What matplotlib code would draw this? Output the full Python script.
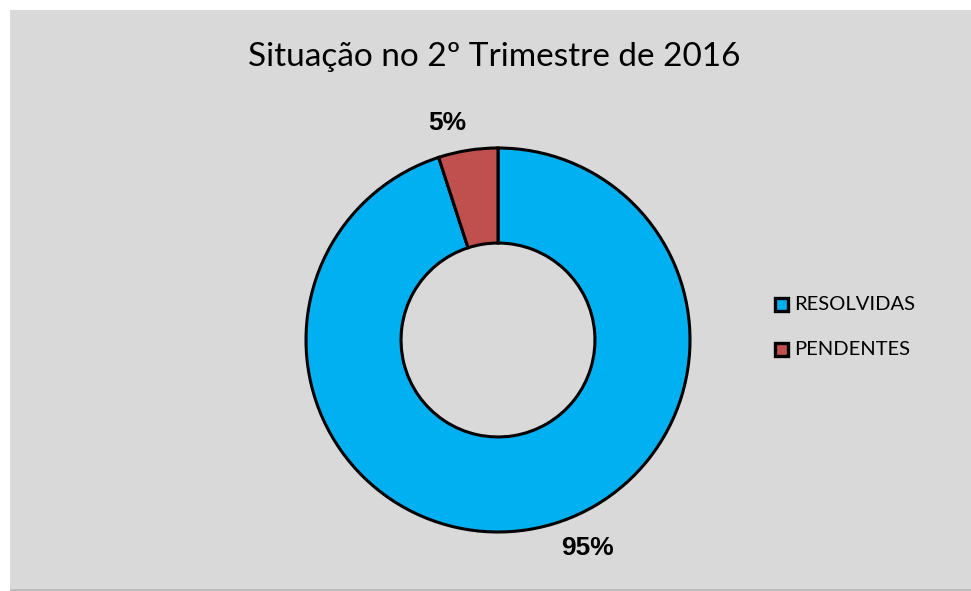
import matplotlib.pyplot as plt
from matplotlib.patches import Rectangle

# data
categorias = ['RESOLVIDAS', 'PENDENTES']
valores = [95, 5]
rotulos = ['95%', '5%']
cores = ['#00b0f0', '#c0504d']

W, H = 971, 591
fig = plt.figure(figsize=(W / 100, H / 100), dpi=100)
fig.patch.set_facecolor('white')

# chart area background
fig.patches.append(Rectangle((10 / W, 2 / H), (W - 10) / W, (H - 12) / H,
                             transform=fig.transFigure, facecolor='#d9d9d9',
                             edgecolor='none', zorder=-10))
fig.patches.append(Rectangle((10 / W, 0), (W - 10) / W, 2 / H,
                             transform=fig.transFigure, facecolor='#bdbdbd',
                             edgecolor='none', zorder=-10))

# donut, centre (498, 340) px, radius 192 px
cx, cy, r = 498, 340, 192
ax = fig.add_axes([(cx - r) / W, (H - cy - r) / H, 2 * r / W, 2 * r / H])
ax.set_facecolor('none')
ax.set_zorder(1)
wedges, _ = ax.pie(valores, colors=cores, startangle=90, counterclock=False,
                   radius=1, wedgeprops=dict(width=0.495, edgecolor='black',
                                             linewidth=2.2))
ax.set_xlim(-1, 1)
ax.set_ylim(-1, 1)
ax.set_aspect('equal')
ax.axis('off')

# data labels
fig.text(587 / W, 1 - 548 / H, rotulos[0], ha='center', va='center',
         fontsize=19, fontweight='bold', family='Liberation Sans')
fig.text(447 / W, 1 - 123 / H, rotulos[1], ha='center', va='center',
         fontsize=19, fontweight='bold', family='Liberation Sans')

# title
fig.text(494 / W, 1 - 57 / H, 'Situação no 2º Trimestre de 2016',
         ha='center', va='center', fontsize=24, family='Lato')

# legend
for i, (cat, cor) in enumerate(zip(categorias, cores)):
    y = 304.5 + i * 45
    fig.patches.append(Rectangle(((781 - 6.5) / W, 1 - (y + 6.5) / H), 13 / W, 13 / H,
                                 transform=fig.transFigure, facecolor=cor,
                                 edgecolor='black', linewidth=2.4, zorder=3))
    fig.text(794 / W, 1 - y / H, cat, ha='left', va='center',
             fontsize=14.5, family='Lato')

fig.savefig('out.png', dpi=100, facecolor='white')
